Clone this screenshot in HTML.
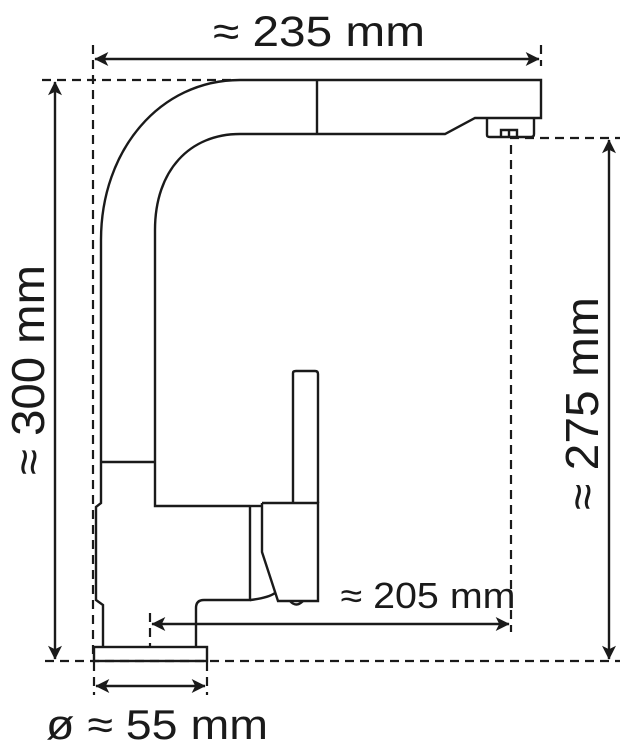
<!DOCTYPE html>
<html><head><meta charset="utf-8"><style>
html,body{margin:0;padding:0;background:#fff;width:629px;height:750px;overflow:hidden}
svg{display:block}
text{font-family:"Liberation Sans",sans-serif;fill:#1a1a1a}
</style></head><body>
<svg width="629" height="750" viewBox="0 0 629 750" xmlns="http://www.w3.org/2000/svg">
<defs>
<marker id="a" viewBox="0 0 10 10" refX="9.5" refY="5" markerWidth="16" markerHeight="14" orient="auto-start-reverse" markerUnits="userSpaceOnUse">
<path d="M0,0 L10,5 L0,10 L2.5,5 z" fill="#1a1a1a"/></marker>
</defs>
<g fill="none" stroke="#1a1a1a" stroke-width="2.4" stroke-linecap="butt">
<g stroke-dasharray="9,6" stroke-width="2.2">
<line x1="93" y1="45" x2="93" y2="661"/>
<line x1="42" y1="80" x2="232" y2="80"/>
<line x1="45" y1="661" x2="620" y2="661"/>
<line x1="510" y1="138" x2="620" y2="138"/>
<line x1="511" y1="145" x2="511" y2="632"/>
<line x1="150" y1="613" x2="150" y2="646"/>
<line x1="541" y1="45" x2="541" y2="66"/>
<line x1="94" y1="662" x2="94" y2="695"/>
<line x1="207" y1="662" x2="207" y2="695"/>
</g>
<line x1="95" y1="59" x2="539" y2="59" marker-start="url(#a)" marker-end="url(#a)"/>
<line x1="55" y1="82" x2="55" y2="659" marker-start="url(#a)" marker-end="url(#a)"/>
<line x1="609" y1="140" x2="609" y2="659" marker-start="url(#a)" marker-end="url(#a)"/>
<line x1="152" y1="624" x2="509" y2="624" marker-start="url(#a)"  marker-end="url(#a)"/>
<line x1="96" y1="686" x2="205" y2="686" marker-start="url(#a)" marker-end="url(#a)"/>
<path d="M101,462 L101,240 C101,150 160,80 240,80 L541,80 L541,118 L475,118 L445,134 L240,134 C190,134 155,170 155,230 L155,506 L250,506"/>
<line x1="317" y1="80" x2="317" y2="134"/>
<line x1="101" y1="462" x2="155" y2="462"/>
<path d="M101,462 L101,503 L96,507 L96,600 L103,605 L103,647"/>
<path d="M196,647 L196,608 Q196,600 204,600 L250,600 L250,506"/>
<rect x="94" y="647" width="113" height="14"/>
<path d="M250,506 L262,506"/>
<path d="M262,503 L318,503 L318,601 L278,601 L262,552 L262,503"/>
<path d="M250,600 Q268,598 275,593"/>
<path d="M290,601 Q296,608 303,601"/>
<path d="M293,503 L293,373 Q293,371 296,371 L315,371 Q318,371 318,374 L318,503"/>
<path d="M487,118 L487,135 Q487,137 490,137 L531,137 Q534,137 534,134 L534,118"/>
<path d="M501,137 L501,130 L517,130 L517,137 M509,130 L509,137"/>
</g>
<text x="319" y="46" font-size="43" text-anchor="middle" textLength="212" lengthAdjust="spacingAndGlyphs">≈ 235 mm</text>
<text x="428" y="608" font-size="36" text-anchor="middle" textLength="175" lengthAdjust="spacingAndGlyphs">≈ 205 mm</text>
<text x="46" y="739" font-size="42" textLength="222" lengthAdjust="spacingAndGlyphs">ø ≈ 55 mm</text>
<text transform="translate(44,475) rotate(-90)" font-size="46" textLength="210" lengthAdjust="spacingAndGlyphs">≈ 300 mm</text>
<text transform="translate(598,510) rotate(-90)" font-size="46" textLength="213" lengthAdjust="spacingAndGlyphs">≈ 275 mm</text>
</svg>
</body></html>
